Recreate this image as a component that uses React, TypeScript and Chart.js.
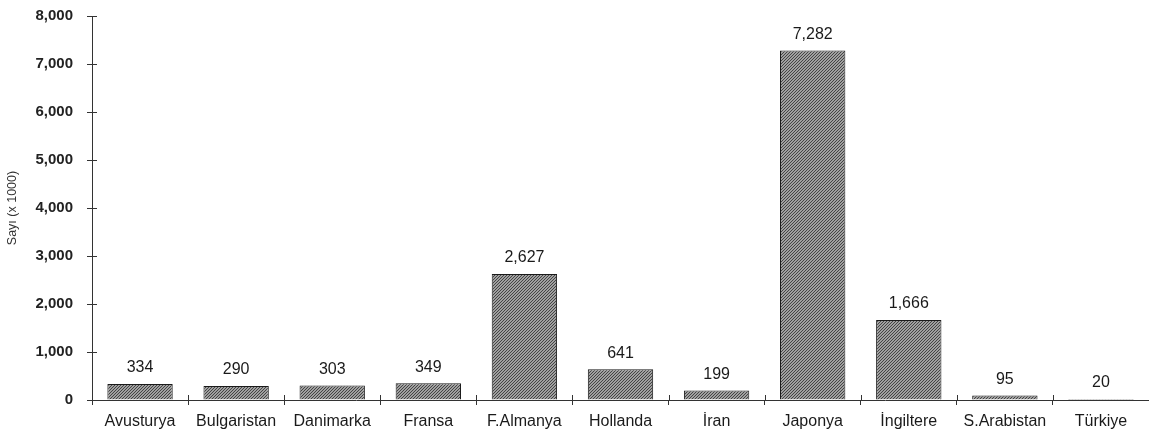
import React, { useEffect, useRef } from "react";
import { Chart, registerables } from "chart.js";

Chart.register(...registerables);

const categories = ["Avusturya", "Bulgaristan", "Danimarka", "Fransa", "F.Almanya", "Hollanda", "İran", "Japonya", "İngiltere", "S.Arabistan", "Türkiye"];
const values = [334, 290, 303, 349, 2627, 641, 199, 7282, 1666, 95, 20];
const yTicks = [0, 1000, 2000, 3000, 4000, 5000, 6000, 7000, 8000];
const yTitle = "Sayı (x 1000)";

const FONT = "'Liberation Sans', Arial, sans-serif";
const SHIFT = 7;

function makePattern(): CanvasPattern | string {
  const c = document.createElement("canvas");
  c.width = 3;
  c.height = 3;
  const g = c.getContext("2d");
  if (!g) return "#777";
  g.fillStyle = "#a0a0a0";
  g.fillRect(0, 0, 3, 3);
  g.fillStyle = "#444444";
  g.fillRect(2, 0, 1, 1);
  g.fillRect(1, 1, 1, 1);
  g.fillRect(0, 2, 1, 1);
  const p = g.createPattern(c, "repeat");
  return p || "#777";
}

export default function App() {
  const ref = useRef<HTMLCanvasElement | null>(null);
  useEffect(() => {
    document.body.style.margin = "0";
    const canvas = ref.current;
    if (!canvas) return;
    const labelPlugin = {
      id: "valueLabels",
      afterDatasetsDraw(chart: any) {
        const ctx = chart.ctx;
        const meta = chart.getDatasetMeta(0);
        ctx.save();
        ctx.font = `16px ${FONT}`;
        ctx.fillStyle = "#1a1a1a";
        ctx.textAlign = "center";
        ctx.textBaseline = "bottom";
        meta.data.forEach((el: any, i: number) => {
          ctx.fillText(values[i].toLocaleString("en-US"), el.x, el.y - 8);
        });
        ctx.strokeStyle = "#333";
        ctx.lineWidth = 1;
        const ys = chart.scales.y;
        const xs = chart.scales.x;
        const area = chart.chartArea;
        ctx.beginPath();
        yTicks.forEach((t) => {
          const py = Math.round(ys.getPixelForValue(t)) + 0.5;
          ctx.moveTo(area.left, py);
          ctx.lineTo(area.left + 5, py);
        });
        for (let i = 1; i < categories.length; i++) {
          const px = Math.round((xs.getPixelForValue(i - 1) + xs.getPixelForValue(i)) / 2) + 0.5;
          ctx.moveTo(px, area.bottom);
          ctx.lineTo(px, area.bottom - 5);
        }
        ctx.stroke();
        ctx.restore();
      },
    };
    const chart = new Chart(canvas, {
      type: "bar",
      data: {
        labels: categories,
        datasets: [
          {
            data: values,
            backgroundColor: makePattern() as any,
            borderColor: "#1a1a1a",
            borderWidth: 1,
            barPercentage: 0.68,
            categoryPercentage: 1,
          },
        ],
      },
      options: {
        animation: false,
        responsive: false,
        maintainAspectRatio: false,
        layout: { padding: { top: 2, right: 0, left: 0, bottom: 0 } },
        plugins: {
          legend: { display: false },
          tooltip: { enabled: false },
        },
        scales: {
          x: {
            grid: { display: true, drawOnChartArea: false, drawTicks: true, tickLength: 5, color: "#333", offset: true },
            border: { display: true, color: "#333", width: 1 },
            ticks: { font: { family: FONT, size: 16 }, color: "#1a1a1a", padding: 7, maxRotation: 0, autoSkip: false },
            afterFit: (s: any) => {
              s.height = 41;
            },
          },
          y: {
            min: 0,
            max: 8000,
            afterBuildTicks: (s: any) => {
              s.ticks = yTicks.map((v) => ({ value: v }));
            },
            grid: { display: true, drawOnChartArea: false, drawTicks: true, tickLength: 5, color: "#333" },
            border: { display: true, color: "#333", width: 1 },
            ticks: {
              font: { family: FONT, size: 15, weight: "bold" },
              color: "#222",
              padding: 14,
              callback: (v: any) => Number(v).toLocaleString("en-US"),
            },
            title: {
              display: true,
              text: yTitle,
              font: { family: FONT, size: 12.5 },
              color: "#333",
              padding: { top: 5, bottom: 0 },
            },
            afterFit: (s: any) => {
              s.width = 92;
            },
          },
        },
      },
      plugins: [labelPlugin],
    });
    return () => chart.destroy();
  }, []);
  return (
    <div style={{ position: "absolute", left: 0, top: 0, width: 1149, height: 441, overflow: "hidden" }}>
      <canvas
        ref={ref}
        width={1149}
        height={441 + SHIFT}
        style={{ position: "absolute", left: 0, top: -SHIFT, width: 1149, height: 441 + SHIFT, display: "block" }}
      />
    </div>
  );
}
